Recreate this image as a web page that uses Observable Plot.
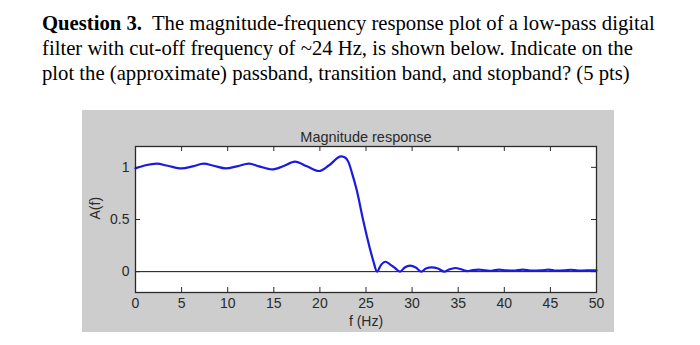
<!DOCTYPE html>
<html>
<head>
<meta charset="utf-8">
<script src="https://cdn.jsdelivr.net/npm/d3@7"></script>
<script src="https://cdn.jsdelivr.net/npm/@observablehq/plot@0.6"></script>
<style>
  html, body { margin: 0; padding: 0; background: #fff; }
  #page { position: relative; width: 700px; height: 345px; overflow: hidden; background: #fff; }
  #question { position: absolute; left: 42px; top: 11px; font-family: "Liberation Serif", "Times New Roman", serif; font-size: 20.7px; line-height: 25px; color: #000; white-space: nowrap; }
  #chart { position: absolute; left: 82px; top: 110px; }
</style>
</head>
<body>
<div id="page">
  <div id="question"><b>Question 3.</b>&nbsp; The magnitude-frequency response plot of a low-pass digital<br>filter with cut-off frequency of ~24 Hz, is shown below. Indicate on the<br>plot the (approximate) passband, transition band, and stopband? (5 pts)</div>
  <div id="chart"></div>
</div>
<script>
// Data
const freq = [0, 1.1, 2.3, 3.5, 5.0, 6.2, 7.4, 8.5, 9.8, 11.0, 12.3, 13.4, 14.8, 16.0, 17.3, 18.6, 19.9, 21.0, 22.3, 22.8, 23.1, 23.5, 24.0, 24.7, 25.4, 25.8, 26.2, 26.6, 27.1, 27.6, 28.2, 28.7, 29.2, 29.8, 30.4, 31.0, 31.5, 32.1, 32.8, 33.5, 34.0, 34.7, 35.4, 36.0, 36.6, 37.2, 38.0, 38.6, 39.4, 40.2, 41.0, 42.0, 43.0, 44.0, 44.8, 45.6, 46.5, 47.2, 48.0, 49.0, 50.0];
const amp  = [0.99, 1.02, 1.035, 1.015, 0.99, 1.01, 1.035, 1.015, 0.99, 1.01, 1.035, 1.01, 0.98, 1.01, 1.055, 1.01, 0.965, 1.02, 1.105, 1.09, 1.05, 0.94, 0.78, 0.49, 0.23, 0.10, 0.0, 0.06, 0.095, 0.07, 0.03, 0.0, 0.04, 0.058, 0.04, 0.0, 0.03, 0.04, 0.03, 0.0, 0.02, 0.035, 0.02, 0.005, 0.015, 0.02, 0.012, 0.008, 0.02, 0.012, 0.01, 0.02, 0.01, 0.012, 0.02, 0.01, 0.012, 0.018, 0.01, 0.012, 0.012];
const xTicks = [0, 5, 10, 15, 20, 25, 30, 35, 40, 45, 50];
const yTicks = [0, 0.5, 1];
const yTickLabels = ["0", "0.5", "1"];
const chartTitle = "Magnitude response";
const xLabel = "f (Hz)";
const yLabel = "A(f)";

const data = freq.map((f, i) => ({f, a: amp[i]}));

const W = 532, H = 222, mL = 53, mR = 18, mT = 36, mB = 40;
const fw = W - mL - mR, fh = H - mT - mB;
const axisColor = "#2a2a2a";

const chart = Plot.plot({
  width: W, height: H,
  marginLeft: mL, marginRight: mR, marginTop: mT, marginBottom: mB,
  style: {background: "#cdcdcd", fontFamily: "Liberation Sans, Arial, sans-serif", fontSize: "14px", color: axisColor},
  x: {domain: [0, 50]},
  y: {domain: [-0.2, 1.2]},
  marks: [
    Plot.frame({fill: "white", stroke: null}),
    Plot.ruleY([0], {stroke: "#111", strokeWidth: 1}),
    Plot.line(data, {x: "f", y: "a", stroke: "#1a1ae0", strokeWidth: 2.2, curve: "monotone-x"}),
    Plot.ruleX(xTicks, {x: d => d, insetTop: fh - 5, stroke: axisColor}),
    Plot.ruleX(xTicks, {x: d => d, insetBottom: fh - 5, stroke: axisColor}),
    Plot.ruleY(yTicks, {y: d => d, insetRight: fw - 5, stroke: axisColor}),
    Plot.ruleY(yTicks, {y: d => d, insetLeft: fw - 5, stroke: axisColor}),
    Plot.axisX(xTicks, {tickSize: 0, tickPadding: 6, label: null, fill: axisColor, fontSize: 14}),
    Plot.axisY(yTicks, {tickSize: 0, tickPadding: 6, label: null, fill: axisColor, fontSize: 14,
      tickFormat: d => yTickLabels[yTicks.indexOf(d)]}),
    Plot.frame({stroke: axisColor, strokeWidth: 1.3}),
    Plot.text([chartTitle], {frameAnchor: "top", dy: -15, fontSize: 14.5, fill: axisColor}),
    Plot.text([xLabel], {frameAnchor: "bottom", dy: 33, fontSize: 14, fill: axisColor}),
    Plot.text([yLabel], {frameAnchor: "left", dx: -40, rotate: -90, fontSize: 14, fill: axisColor})
  ]
});
document.getElementById("chart").appendChild(chart);
</script>
</body>
</html>
